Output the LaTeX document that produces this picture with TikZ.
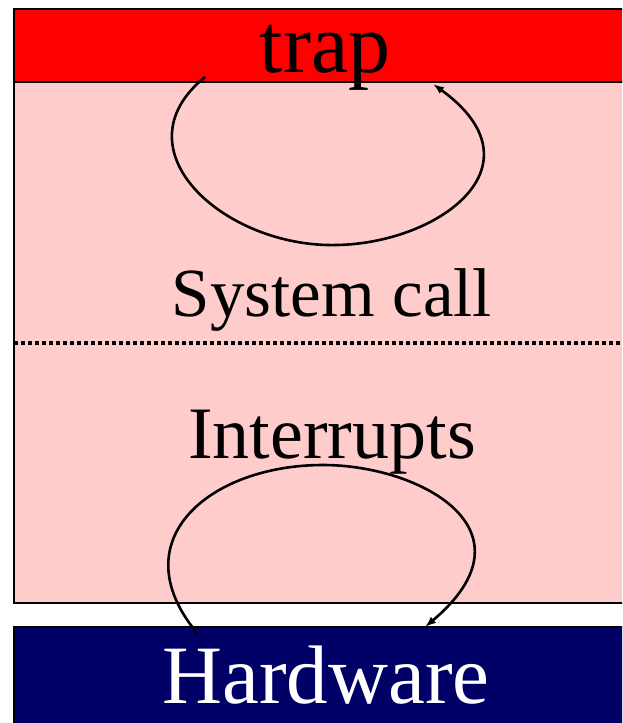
\documentclass[tikz,border=0pt]{standalone}
\usepackage{fontspec}
\setmainfont{Liberation Serif}
\usetikzlibrary{arrows.meta}
\definecolor{trapred}{HTML}{FF0000}
\definecolor{kpink}{HTML}{FFCCCC}
\definecolor{hwnavy}{HTML}{000066}
\tikzset{
  box/.style={draw=black, line width=2.6pt},
  lbl/.style={anchor=base, inner sep=0pt},
  flow/.style={line width=2.6pt, -{Latex[length=11pt,width=8pt]}},
}
\begin{document}
\begin{tikzpicture}[x=1pt,y=-1pt]
\useasboundingbox[fill=white] (0,0) rectangle (622,723);
\begin{scope}
\clip (0,0) rectangle (622,723);
\fill[kpink] (14,82) rectangle (640,603);
\draw[box] (14,82) rectangle (640,603);
\fill[trapred] (14,9) rectangle (640,82);
\draw[box] (14,9) rectangle (640,82);
\fill[hwnavy] (14,627) rectangle (640,740);
\draw[box] (14,627) rectangle (640,740);
\coordinate (dl) at (14,343);
\coordinate (dr) at (640,343);
\draw[line width=4pt, dash pattern=on 4pt off 3pt] (dl) -- (dr);
\end{scope}
\node[lbl, font=\fontsize{84}{86}\selectfont] (trap) at (325,72) {trap};
\node[lbl, font=\fontsize{69}{71}\selectfont] (sys) at (332,316) {System call};
\node[lbl, font=\fontsize{74}{76}\selectfont] (intr) at (332,458) {Interrupts};
\node[lbl, font=\fontsize{83}{85}\selectfont, text=white] (hw) at (326,703) {Hardware};
\coordinate (t1) at (205,77);
\coordinate (t2) at (433,84);
\coordinate (b1) at (197,633);
\coordinate (b2) at (425,627);
\draw[flow] (t1) .. controls (115,150) and (225,248) .. (337,245)
  .. controls (440,243) and (545,165) .. (t2);
\draw[flow] (b1) .. controls (120,540) and (210,465) .. (323,465)
  .. controls (420,465) and (540,530) .. (b2);
\end{tikzpicture}
\end{document}
